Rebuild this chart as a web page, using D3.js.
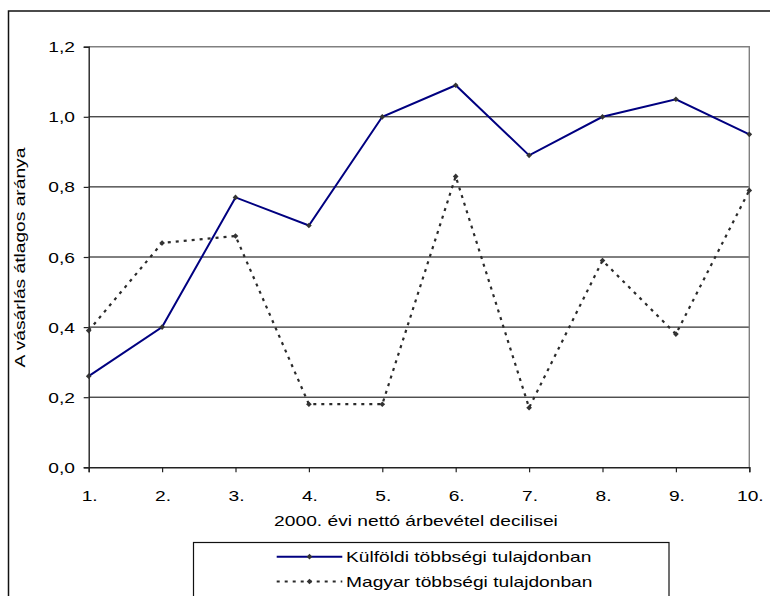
<!DOCTYPE html>
<html>
<head>
<meta charset="utf-8">
<script src="https://cdn.jsdelivr.net/npm/d3@7"></script>
<style>
  html, body { margin: 0; padding: 0; background: #fff; }
  svg { display: block; }
  text { font-family: "Liberation Sans", Arial, sans-serif; fill: #000; }
</style>
</head>
<body>
<div id="chart"></div>
<script>
// Deciles of 2000 net revenue
const categories = ["1.", "2.", "3.", "4.", "5.", "6.", "7.", "8.", "9.", "10."];
// Foreign-majority owned firms
const foreignValues = [0.26, 0.40, 0.77, 0.69, 1.00, 1.09, 0.89, 1.00, 1.05, 0.95];
// Hungarian-majority owned firms
const hungarianValues = [0.39, 0.64, 0.66, 0.18, 0.18, 0.83, 0.17, 0.59, 0.38, 0.79];
const yTicks = [0, 0.2, 0.4, 0.6, 0.8, 1.0, 1.2];
const seriesNames = ["Külföldi többségi tulajdonban", "Magyar többségi tulajdonban"];

const W = 770, H = 596;
const plotLeft = 88.7, plotRight = 749.3, plotTop = 46.7, plotBottom = 467.3;
const FS = 15;       // font size
const SX = 1.28;     // horizontal widening of the text glyphs

const svg = d3.select("#chart").append("svg")
  .attr("width", W).attr("height", H);

// outer chart frame
svg.append("rect")
  .attr("x", 8.5).attr("y", 11).attr("width", 900).attr("height", 900)
  .attr("fill", "#fff").attr("stroke", "#111").attr("stroke-width", 1.5);

const x = d3.scalePoint().domain(categories).range([plotLeft, plotRight]);
const y = d3.scaleLinear().domain([0, 1.2]).range([plotBottom, plotTop]);

// helper for widened text
function wideText(g, tx, ty, str, anchor, rotate) {
  return g.append("text")
    .attr("transform", `translate(${tx},${ty})` + (rotate ? ` rotate(${rotate})` : "") + ` scale(${SX},1)`)
    .attr("text-anchor", anchor)
    .style("font-size", FS + "px")
    .text(str);
}

// gridlines
svg.append("g").selectAll("line")
  .data(yTicks.filter(d => d > 0 && d < 1.2))
  .join("line")
  .attr("x1", plotLeft).attr("x2", plotRight)
  .attr("y1", d => y(d)).attr("y2", d => y(d))
  .attr("stroke", "#000").attr("stroke-width", 1);

// plot area border (top and right)
svg.append("path")
  .attr("d", `M${plotLeft},${y(1.2)}H${plotRight}V${plotBottom}`)
  .attr("fill", "none").attr("stroke", "#808080").attr("stroke-width", 1.4);

// y axis
const yAxis = d3.axisLeft(y).tickValues(yTicks).tickSize(5).tickFormat(() => "");
const gy = svg.append("g").attr("transform", `translate(${plotLeft},0)`).call(yAxis);
gy.select(".domain").attr("stroke", "#222").attr("stroke-width", 1.4);
gy.selectAll(".tick line").attr("stroke", "#222").attr("stroke-width", 1.2);
yTicks.forEach(v => {
  wideText(svg, 75, y(v) + 5.5, d3.format(".1f")(v).replace(".", ","), "end");
});

// x axis
const xAxis = d3.axisBottom(x).tickSize(5).tickFormat(() => "");
const gx = svg.append("g").attr("transform", `translate(0,${plotBottom})`).call(xAxis);
gx.select(".domain").attr("stroke", "#222").attr("stroke-width", 1.4);
gx.selectAll(".tick line").attr("stroke", "#222").attr("stroke-width", 1.2);
categories.forEach(c => {
  wideText(svg, x(c) + 1, 501, c, "middle");
});

// axis titles
wideText(svg, 416, 525.5, "2000. évi nettó árbevétel decilisei", "middle");
wideText(svg, 24.5, 257.5, "A vásárlás átlagos aránya", "middle", -90);

const line = d3.line().x((d, i) => x(categories[i])).y(d => y(d));

// Hungarian-majority series (dashed)
svg.append("path")
  .datum(hungarianValues)
  .attr("d", line)
  .attr("fill", "none")
  .attr("stroke", "#2a2a2a")
  .attr("stroke-width", 2.2)
  .attr("stroke-dasharray", "3,5");

// Foreign-majority series (solid navy)
svg.append("path")
  .datum(foreignValues)
  .attr("d", line)
  .attr("fill", "none")
  .attr("stroke", "#000080")
  .attr("stroke-width", 2);

// point markers
function markers(vals) {
  svg.append("g").selectAll("rect")
    .data(vals)
    .join("rect")
    .attr("x", (d, i) => x(categories[i]) - 2)
    .attr("y", d => y(d) - 2)
    .attr("width", 4).attr("height", 4)
    .attr("transform", (d, i) => `rotate(45,${x(categories[i])},${y(d)})`)
    .attr("fill", "#333");
}
markers(hungarianValues);
markers(foreignValues);

// legend
const lg = svg.append("g");
lg.append("rect")
  .attr("x", 193.5).attr("y", 542.5).attr("width", 475.5).attr("height", 100)
  .attr("fill", "#fff").attr("stroke", "#111").attr("stroke-width", 1.2);
const legendRows = [
  { name: seriesNames[0], color: "#000080", dash: null, y: 556.7 },
  { name: seriesNames[1], color: "#2a2a2a", dash: "3,5", y: 581.5 }
];
legendRows.forEach(r => {
  lg.append("line")
    .attr("x1", 276.7).attr("x2", 342.3)
    .attr("y1", r.y).attr("y2", r.y)
    .attr("stroke", r.color).attr("stroke-width", 2)
    .attr("stroke-dasharray", r.dash);
  lg.append("rect")
    .attr("x", 307.5).attr("y", r.y - 2).attr("width", 4).attr("height", 4)
    .attr("transform", `rotate(45,309.5,${r.y})`)
    .attr("fill", "#333");
  wideText(lg, 346, r.y + 5.5, r.name, "start");
});
</script>
</body>
</html>
